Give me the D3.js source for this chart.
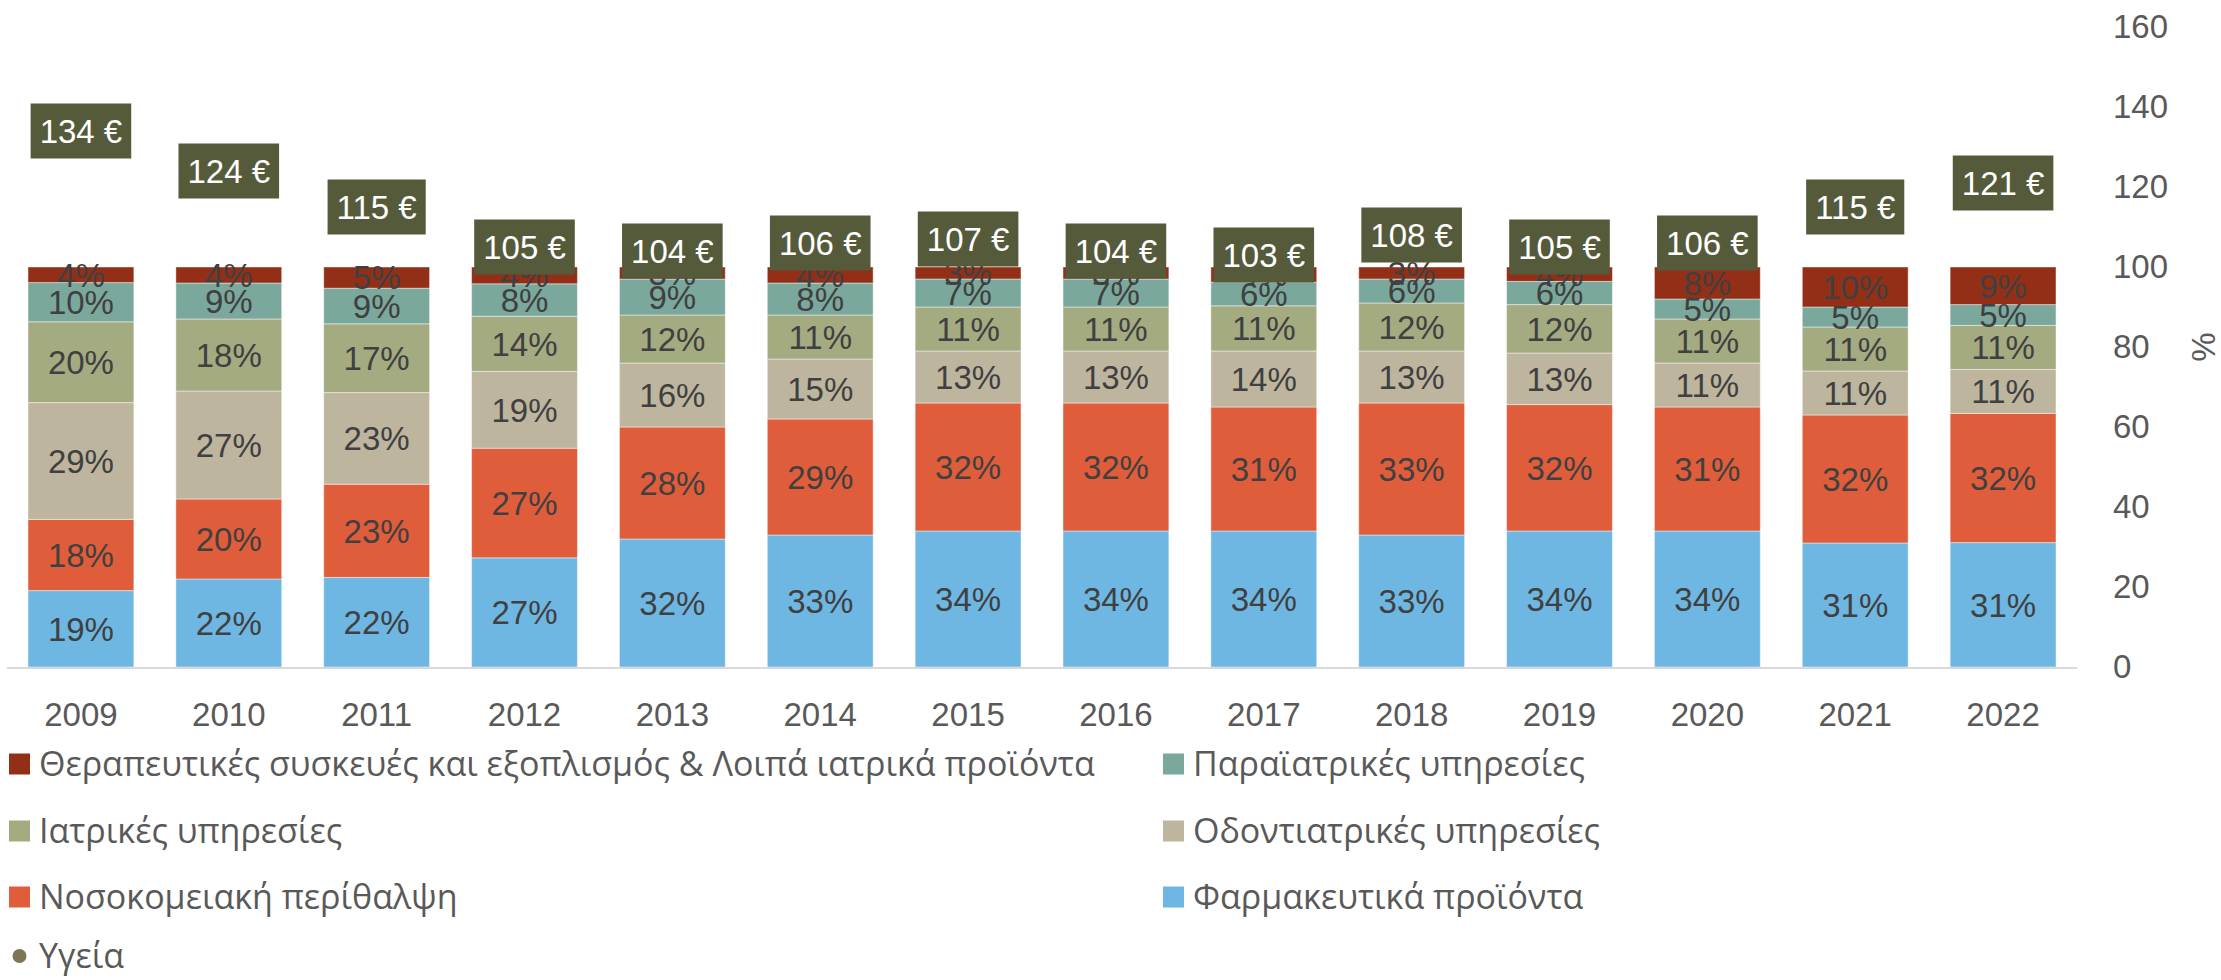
<!DOCTYPE html>
<html lang="el">
<head>
<meta charset="UTF-8">
<title>Δαπάνες υγείας</title>
<script src="https://cdn.jsdelivr.net/npm/d3@7"></script>
<style>
  html, body { margin: 0; padding: 0; background: #fff; }
  svg { display: block; font-family: "Liberation Sans", Arial, sans-serif; }
  .legend text { font-family: "Open Sans", "Liberation Sans", sans-serif; }
</style>
</head>
<body>
<svg id="chart"></svg>
<script>
// ---- data ----
const years = ['2009','2010','2011','2012','2013','2014','2015','2016','2017','2018','2019','2020','2021','2022'];

const pharma      = [19.1, 22, 22.4, 27.3, 32, 33, 34, 34, 34,   33, 34,   34, 31, 31.1];
const hospital    = [17.8, 20, 23.3, 27.4, 28, 29, 32, 32, 31,   33, 31.6, 31, 32, 32.3];
const dental      = [29.2, 27, 22.9, 19.2, 16, 15, 13, 13, 14,   13, 12.9, 11, 11, 11];
const medical     = [20.2, 18, 17.2, 13.8, 12, 11, 11, 11, 11.3, 12, 12.1, 11, 11, 11];
const paramedical = [9.8,  9,  8.9,  8.1,  9,  8,  7,  7,  5.9,  6,  5.8,  5,  5,  5.2];
const devices     = [3.9,  4,  5.3,  4.2,  3,  4,  3,  3,  3.8,  3,  3.6,  8,  10, 9.4];

const healthTotal = [134, 124, 115, 105, 104, 106, 107, 104, 103, 108, 105, 106, 115, 121];

const seriesNames = {
  pharma: 'Φαρμακευτικά προϊόντα',
  hospital: 'Νοσοκομειακή περίθαλψη',
  dental: 'Οδοντιατρικές υπηρεσίες',
  medical: 'Ιατρικές υπηρεσίες',
  paramedical: 'Παραϊατρικές υπηρεσίες',
  devices: 'Θεραπευτικές συσκευές και εξοπλισμός & Λοιπά ιατρικά προϊόντα'
};
const healthName = 'Υγεία';
const yTicks = [0, 20, 40, 60, 80, 100, 120, 140, 160];

// ---- styling ----
const colors = {
  pharma: '#6FB7E3',
  hospital: '#E05D3B',
  dental: '#BEB59F',
  medical: '#A4AB80',
  paramedical: '#7BA89D',
  devices: '#932F17'
};
const boxColor = '#555A3B';
const healthDot = '#7D7553';
const textGray = '#595959';
const labelGray = '#404040';

const W = 2221, H = 980;
const plot = { left: 7, right: 2077, top: 27, bottom: 667 };

const svg = d3.select('#chart').attr('width', W).attr('height', H);

const keys = ['pharma', 'hospital', 'dental', 'medical', 'paramedical', 'devices'];
const valuesByKey = { pharma, hospital, dental, medical, paramedical, devices };
const table = years.map((y, i) => {
  const row = { year: y, total: healthTotal[i] };
  keys.forEach(k => row[k] = valuesByKey[k][i]);
  return row;
});

const x = d3.scaleBand()
  .domain(years)
  .range([plot.left, plot.right])
  .paddingInner(0.284)
  .paddingOuter(0.142);

const y = d3.scaleLinear()
  .domain([0, 160])
  .range([plot.bottom, plot.top]);

const stacked = d3.stack().keys(keys)(table);

// bars
const layers = svg.append('g').selectAll('g')
  .data(stacked)
  .join('g')
  .attr('fill', d => colors[d.key]);

layers.selectAll('rect')
  .data(d => d)
  .join('rect')
  .attr('x', d => x(d.data.year))
  .attr('width', x.bandwidth())
  .attr('y', d => y(d[1]))
  .attr('height', d => y(d[0]) - y(d[1]))
  .attr('stroke', 'rgba(255,255,255,0.45)')
  .attr('stroke-width', 1);

// baseline
svg.append('line')
  .attr('x1', plot.left).attr('x2', plot.right)
  .attr('y1', y(0) + 1).attr('y2', y(0) + 1)
  .attr('stroke', '#D9D9D9')
  .attr('stroke-width', 2);

// segment labels
const segLabels = svg.append('g')
  .attr('font-size', 33)
  .attr('fill', labelGray)
  .attr('text-anchor', 'middle');

stacked.forEach(layer => {
  segLabels.selectAll(null)
    .data(layer)
    .join('text')
    .attr('x', d => x(d.data.year) + x.bandwidth() / 2)
    .attr('y', d => (y(d[0]) + y(d[1])) / 2)
    .attr('dy', '0.36em')
    .text(d => Math.round(d[1] - d[0]) + '%');
});

// x axis
const xAxis = svg.append('g')
  .attr('transform', `translate(0,${y(0)})`)
  .call(d3.axisBottom(x).tickSize(0).tickPadding(36));
xAxis.select('.domain').remove();
xAxis.selectAll('text')
  .attr('font-size', 33)
  .attr('font-family', null)
  .attr('fill', textGray);

// y axis (right)
const yAxis = svg.append('g')
  .attr('transform', `translate(${plot.right},0)`)
  .call(d3.axisRight(y).tickValues(yTicks).tickSize(0).tickPadding(36));
yAxis.select('.domain').remove();
yAxis.selectAll('text')
  .attr('font-size', 33)
  .attr('font-family', null)
  .attr('fill', textGray);

svg.append('text')
  .attr('transform', `translate(2203,${y(80)}) rotate(-90)`)
  .attr('text-anchor', 'middle')
  .attr('dy', '0.36em')
  .attr('font-size', 33)
  .attr('fill', textGray)
  .text('%');

// Υγεία labels (boxed)
const totals = svg.append('g').selectAll('g')
  .data(table)
  .join('g')
  .attr('transform', d => `translate(${x(d.year) + x.bandwidth() / 2},${y(d.total)})`);

totals.append('rect').attr('fill', boxColor);
totals.append('text')
  .attr('text-anchor', 'middle')
  .attr('dy', '0.36em')
  .attr('font-size', 33)
  .attr('fill', '#fff')
  .text(d => d.total + ' €');
totals.each(function () {
  const g = d3.select(this);
  const bb = g.select('text').node().getBBox();
  const bw = bb.width + 18, bh = 55;
  g.select('rect')
    .attr('x', -bw / 2).attr('y', -bh / 2)
    .attr('width', bw).attr('height', bh);
});

// legend
const legendItems = [
  { key: 'devices', col: 0, row: 0 },
  { key: 'paramedical', col: 1, row: 0 },
  { key: 'medical', col: 0, row: 1 },
  { key: 'dental', col: 1, row: 1 },
  { key: 'hospital', col: 0, row: 2 },
  { key: 'pharma', col: 1, row: 2 }
];
const colX = [9, 1163];
const rowY = [764, 831, 897, 956];

const legend = svg.append('g').attr('class', 'legend').attr('font-size', 34).attr('fill', textGray);
legendItems.forEach(it => {
  const g = legend.append('g')
    .attr('transform', `translate(${colX[it.col]},${rowY[it.row]})`);
  g.append('rect')
    .attr('x', 0).attr('y', -10.5)
    .attr('width', 21).attr('height', 21)
    .attr('fill', colors[it.key]);
  g.append('text')
    .attr('x', 30).attr('dy', '0.36em')
    .text(seriesNames[it.key]);
});
const hg = legend.append('g').attr('transform', `translate(${colX[0]},${rowY[3]})`);
hg.append('circle').attr('cx', 10.5).attr('cy', 0).attr('r', 7).attr('fill', healthDot);
hg.append('text').attr('x', 30).attr('dy', '0.36em').text(healthName);
</script>
</body>
</html>
